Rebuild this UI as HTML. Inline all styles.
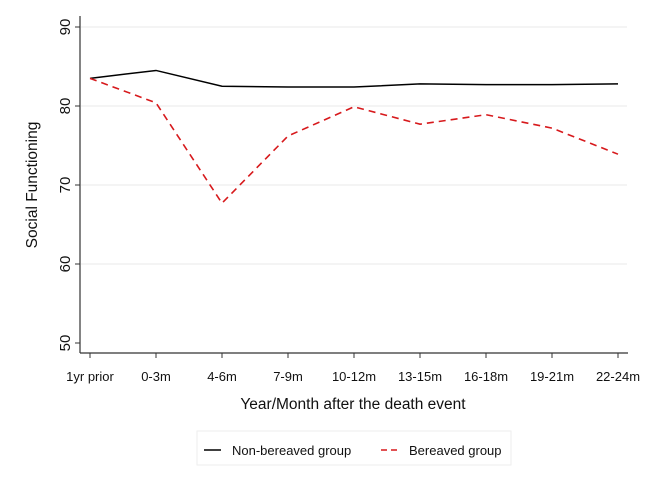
<!DOCTYPE html>
<html><head><meta charset="utf-8"><style>
body{margin:0;background:#fff;font-family:"Liberation Sans",Arial,sans-serif;}
svg text{font-family:"Liberation Sans",Arial,sans-serif;fill:#111;}
</style></head><body>
<svg id="chart" width="645" height="474" xmlns="http://www.w3.org/2000/svg">
<rect width="645" height="474" fill="#fff"/>
<g id="grid"></g>
<g id="axes"></g>
<g id="series"></g>
<text transform="translate(37,185) rotate(-90)" text-anchor="middle" font-size="15.5">Social Functioning</text>
<text x="353" y="409" text-anchor="middle" font-size="15.5">Year/Month after the death event</text>
<g>
<rect x="197" y="431" width="314" height="34" fill="#fff" stroke="#eee"/>
<g>
<line x1="204" y1="450" x2="221" y2="450" stroke="#000" stroke-width="1.5"/>
<text x="232" y="455" font-size="13">Non-bereaved group</text>
</g>
<g>
<line x1="381" y1="450" x2="399" y2="450" stroke="#d7191c" stroke-width="1.6" stroke-dasharray="6,4"/>
<text x="409" y="455" font-size="13">Bereaved group</text>
</g>
</g>
</svg>
<script>
const categories=["1yr prior","0-3m","4-6m","7-9m","10-12m","13-15m","16-18m","19-21m","22-24m"];
const nonBereaved=[83.5,84.5,82.5,82.4,82.4,82.8,82.7,82.7,82.8];
const bereaved=[83.5,80.4,67.7,76.2,79.9,77.7,78.9,77.2,73.9];
const yTicks=[50,60,70,80,90];
const NS="http://www.w3.org/2000/svg";
const x=i=>90+i*(618-90)/(categories.length-1);
const y=v=>343-(v-50)*(343-27)/40;
function mk(tag,attrs,parent){const e=document.createElementNS(NS,tag);for(const k in attrs)e.setAttribute(k,attrs[k]);parent.appendChild(e);return e;}
const grid=document.getElementById('grid'),axes=document.getElementById('axes'),series=document.getElementById('series');
yTicks.forEach(t=>{
 if(t>50){const g=mk('line',{x1:81,x2:627,y1:y(t),y2:y(t),stroke:'#e8e8e8','stroke-width':1},grid);
 
 }
 const tk=mk('line',{x1:75,x2:80,y1:y(t),y2:y(t),stroke:'#333'},axes);
 
 
 const lb=mk('text',{transform:`translate(70,${y(t)}) rotate(-90)`,'text-anchor':'middle','font-size':15},axes);
 
 
 lb.textContent=t;
});
const ya=mk('line',{x1:80,x2:80,y1:16,y2:353,stroke:'#333','stroke-width':1.2},axes);


const xa=mk('line',{x1:80,x2:628,y1:353,y2:353,stroke:'#333','stroke-width':1.2},axes);


categories.forEach((c,i)=>{
 const tk=mk('line',{x1:x(i),x2:x(i),y1:353,y2:358,stroke:'#333'},axes);
 
 
 const lb=mk('text',{x:x(i),y:381,'text-anchor':'middle','font-size':13},axes);
 
 
 lb.textContent=c;
});
const p1=mk('polyline',{points:nonBereaved.map((v,i)=>x(i)+','+y(v)).join(' '),fill:'none',stroke:'#000','stroke-width':1.5},series);


const p2=mk('polyline',{points:bereaved.map((v,i)=>x(i)+','+y(v)).join(' '),fill:'none',stroke:'#d7191c','stroke-width':1.6,'stroke-dasharray':'7,5'},series);


</script>
</body></html>
